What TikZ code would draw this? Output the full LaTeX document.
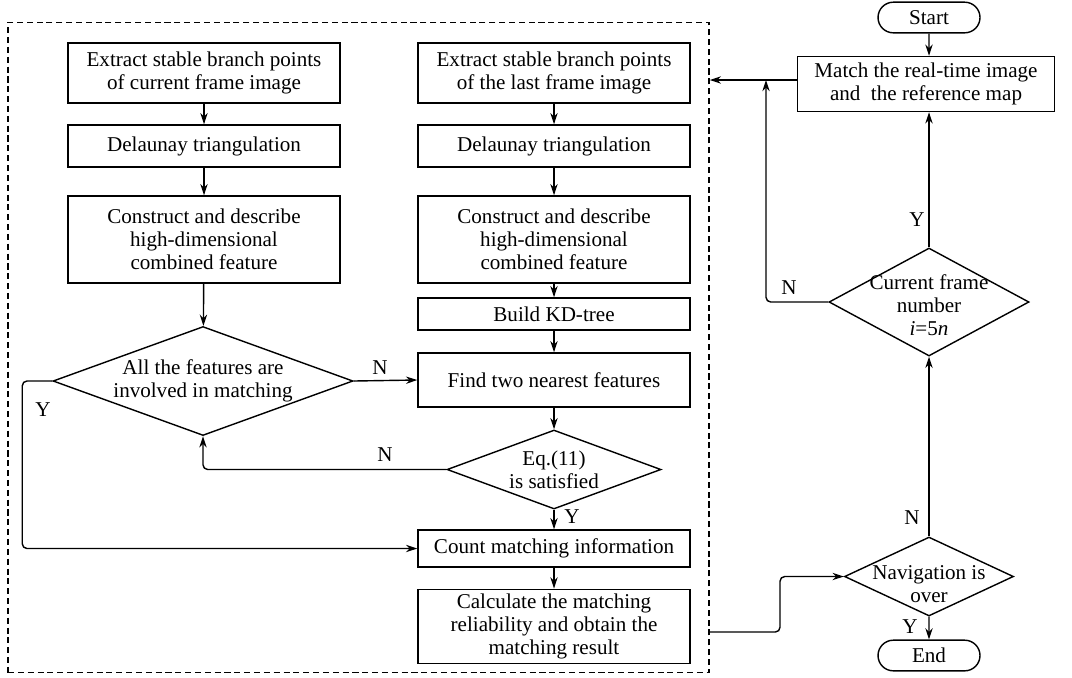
\documentclass[tikz,border=0pt]{standalone}
\usepackage{fontspec}
\setmainfont{Liberation Serif}
\usepackage{tikz}
\usetikzlibrary{positioning, arrows.meta, calc, shapes.geometric, shapes.misc}
% text set lower inside a node, box size kept
\newcommand{\sinktext}[2]{\raisebox{-#1}[\height][\depth]{\begin{tabular}{@{}c@{}}#2\end{tabular}}}

\begin{document}
\begin{tikzpicture}[x=0.015cm, y=-0.015cm, >={Stealth[length=1.7mm, width=1.1mm]},
      font=\fontsize{9}{9.8}\selectfont, line width=0.6pt,
      proc/.style={draw, align=center, minimum width=4.08cm, inner sep=2pt},
      test/.style={draw, diamond, align=center, inner sep=0pt},
      term/.style={draw, rounded rectangle, minimum width=1.6cm, minimum height=0.46cm, inner sep=1pt},
      flow/.style={->, rounded corners=2pt},
      lbl/.style={inner sep=1pt}]
    \useasboundingbox (0,0) rectangle (1072,677);
    % dashed frame round the matching step
    \node[draw, dashed, dash pattern=on 2.6pt off 1.6pt, minimum width=10.515cm, minimum height=9.75cm,
      inner sep=0pt] (frame) at (358.5,347.5) {};
    % current frame column
    \node[proc, minimum height=0.9cm]   (curext) at (204,73)    {Extract stable branch points\\of current frame image};
    \node[proc, minimum height=0.63cm]  (curdel) at (204,146)   {Delaunay triangulation};
    \node[proc, minimum height=1.305cm] (curfea) at (204,239.5) {Construct and describe\\high-dimensional\\combined feature};
    \node[test, aspect=2.75, minimum width=4.5cm, minimum height=1.635cm] (allin) at (203,381) {All the features are\\involved in matching};
    % last frame column
    \node[proc, minimum height=0.9cm]   (lastext) at (554,73)    {Extract stable branch points\\of the last frame image};
    \node[proc, minimum height=0.63cm]  (lastdel) at (554,146)   {Delaunay triangulation};
    \node[proc, minimum height=1.305cm] (lastfea) at (554,239.5) {Construct and describe\\high-dimensional\\combined feature};
    \node[proc, minimum height=0.48cm]  (kdtree)  at (554,314)   {Build KD-tree};
    \node[proc, minimum height=0.81cm]  (nearest) at (554,380)   {Find two nearest features};
    \node[test, aspect=2.7, minimum width=3.21cm, minimum height=1.185cm] (eqsat) at (554,469.5) {Eq.(11)\\is satisfied};
    \node[proc, minimum height=0.555cm] (count)   at (554,548.5) {Count matching information};
    \node[proc, minimum height=1.065cm] (calc)    at (554,626.5) {Calculate the matching\\reliability and obtain the\\matching result};
    % navigation column
    \node[term] (start) at (929,17.5) {Start};
    \node[proc, minimum width=3.855cm, minimum height=0.825cm] (match) at (926,84) {Match the real-time image\\and\ \ the reference map};
    \node[test, aspect=1.85, minimum width=3.0cm, minimum height=1.62cm, inner sep=-4.5pt] (frameno) at (929,302)
      {\sinktext{2.5pt}{Current frame\\number\\\textit{i}=5\textit{n}}};
    \node[test, aspect=2.14, minimum width=2.535cm, minimum height=1.185cm, inner sep=-3pt] (navover) at (929,576.5)
      {\sinktext{4.2pt}{Navigation is\\over}};
    \node[term] (end) at (929,655.5) {End};
    \coordinate (njoin) at (766,80);
    \coordinate (fout)  at (709,632);

    \draw[->] (curext) -- (curdel);
    \draw[->] (curdel) -- (curfea);
    \draw[->] (curfea) -- (allin);
    \draw[->] (lastext) -- (lastdel);
    \draw[->] (lastdel) -- (lastfea);
    \draw[->] (lastfea) -- (kdtree);
    \draw[->] (kdtree) -- (nearest);
    \draw[->] (nearest) -- (eqsat);
    \draw[->] (eqsat) -- (count);
    \draw[->] (count) -- (calc);
    \draw[->] (allin.east) -- (nearest.west);
    \draw[flow] (eqsat.west) -| (allin.south);
    \draw[flow] (allin.west) -- ++(-30,0) |- (count.west);
    \node[lbl] at (380,368) {N};
    \node[lbl] at (385,455) {N};
    \node[lbl] at (43,410) {Y};
    \node[lbl] at (572,517) {Y};

    \draw[->] (start) -- (start |- match.north);
    \draw[->] (match.west |- njoin) -- (frame.east |- njoin);
    \draw[->] (frameno.north) -- (frameno.north |- match.south);
    \draw[flow] (frameno.west) -| (njoin);
    \draw[->] (navover.north) -- (frameno.south);
    \draw[flow] (fout) -- (780,632) |- (navover.west);
    \draw[->] (navover) -- (end);
    \node[lbl] at (917,220) {Y};
    \node[lbl] at (789,288) {N};
    \node[lbl] at (912,518) {N};
    \node[lbl] at (910,627) {Y};
  \end{tikzpicture}
\end{document}
